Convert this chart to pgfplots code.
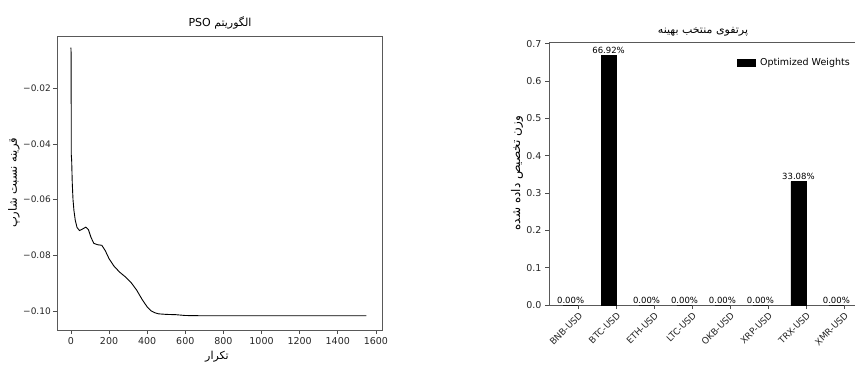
\documentclass[border=0pt]{standalone}
\usepackage{fontspec}
\setmainfont{DejaVu Sans}
\newfontfamily\arabicfont[Script=Arabic]{DejaVu Sans}
\TeXXeTstate=1
\usepackage{pgfplots}
\pgfplotsset{compat=1.18}
\begin{document}
\begin{tikzpicture}
\useasboundingbox (0,0) rectangle (855pt,365pt);
\begin{axis}[at={(57pt,35pt)}, anchor=south west, scale only axis,
  width=325pt, height=294pt,
  xmin=-73, xmax=1632, ymin=-0.1068, ymax=-0.0013,
  xtick={0,200,400,600,800,1000,1200,1400,1600},
  xticklabels={0,200,400,600,800,1000,1200,1400,1600},
  ytick={-0.10,-0.08,-0.06,-0.04,-0.02},
  yticklabels={−0.10,−0.08,−0.06,−0.04,−0.02},
  tick align=outside, tick pos=left, major tick length=4pt,
  tick style={black!70, line width=0.6pt},
  axis line style={black!65, line width=0.8pt},
  ticklabel style={font=\fontsize{9.5}{11}\selectfont, text=black!85},
  yticklabel style={font=\fontsize{9}{10}\selectfont, inner sep=2pt},
  /pgf/number format/assume math mode=true,
  scaled y ticks=false,
]
\addplot[black, line width=0.9pt, mark=none] coordinates {
(0,-0.0055) (1,-0.0075) (2,-0.044) (4,-0.046) (7,-0.054) (11,-0.060)
(16,-0.064) (23,-0.0675) (32,-0.0700) (45,-0.0711) (60,-0.0706)
(78,-0.0699) (92,-0.0708) (105,-0.0735) (120,-0.0757) (140,-0.0762)
(162,-0.0764) (180,-0.0783) (200,-0.0812) (225,-0.0838) (255,-0.0860)
(285,-0.0877) (315,-0.0897) (345,-0.0925) (375,-0.0960) (400,-0.0985)
(420,-0.0999) (440,-0.1006) (460,-0.1010) (500,-0.1012) (550,-0.1013)
(600,-0.1016) (700,-0.1017) (1000,-0.1017) (1550,-0.1017)
};
\end{axis}
\node[font=\fontsize{11}{13}\selectfont] at (220pt,342pt) {\arabicfont\beginR الگوریتم PSO\endR};
\node[font=\fontsize{11.5}{13}\selectfont, rotate=90] at (14pt,182pt) {\arabicfont\beginR قرینه نسبت شارپ\endR};
\node[font=\fontsize{11}{13}\selectfont] at (217pt,8pt) {\arabicfont\beginR تکرار\endR};

\begin{axis}[at={(549pt,60pt)}, anchor=south west, scale only axis,
  width=309pt, height=262.4pt,
  xmin=-0.77, xmax=7.37, ymin=0, ymax=0.703,
  xtick={0,1,2,3,4,5,6,7},
  xticklabels={BNB-USD,BTC-USD,ETH-USD,LTC-USD,OKB-USD,XRP-USD,TRX-USD,XMR-USD},
  xticklabel style={rotate=45, anchor=north east, inner sep=1.5pt, font=\fontsize{9}{10}\selectfont},
  ytick={0,0.1,0.2,0.3,0.4,0.5,0.6,0.7},
  yticklabels={0.0,0.1,0.2,0.3,0.4,0.5,0.6,0.7},
  tick align=outside, tick pos=left, major tick length=4pt,
  tick style={black!70, line width=0.6pt},
  axis line style={black!65, line width=0.8pt},
  ticklabel style={font=\fontsize{9.5}{11}\selectfont, text=black!85},
  /pgf/number format/assume math mode=true,
  ybar, bar width=0.4,
  point meta={y*100},
  nodes near coords={\pgfmathprintnumber[fixed,zerofill,precision=2]{\pgfplotspointmeta}\%},
  every node near coord/.append style={font=\fontsize{8.5}{10}\selectfont, inner sep=1.5pt, text=black},
  legend style={at={(0.99,0.955)}, anchor=north east, draw=none, fill=none,
    font=\fontsize{9.5}{11}\selectfont},
  legend image code/.code={\draw[fill=black,draw=black] (0pt,-3.5pt) rectangle (18pt,3.5pt); \path (21pt,0pt);},
]
\addplot[fill=black, draw=black] coordinates {
(-0.2,0) (0.8,0.6692) (1.8,0) (2.8,0) (3.8,0) (4.8,0) (5.8,0.3308) (6.8,0)
};
\legend{Optimized Weights}
\end{axis}
\node[font=\fontsize{11}{13}\selectfont] at (703pt,333pt) {\arabicfont\beginR پرتفوی منتخب بهینه\endR};
\node[font=\fontsize{12}{14}\selectfont, rotate=90] at (517pt,192pt) {\arabicfont\beginR وزن تخصیص داده شده\endR};
\end{tikzpicture}
\end{document}
